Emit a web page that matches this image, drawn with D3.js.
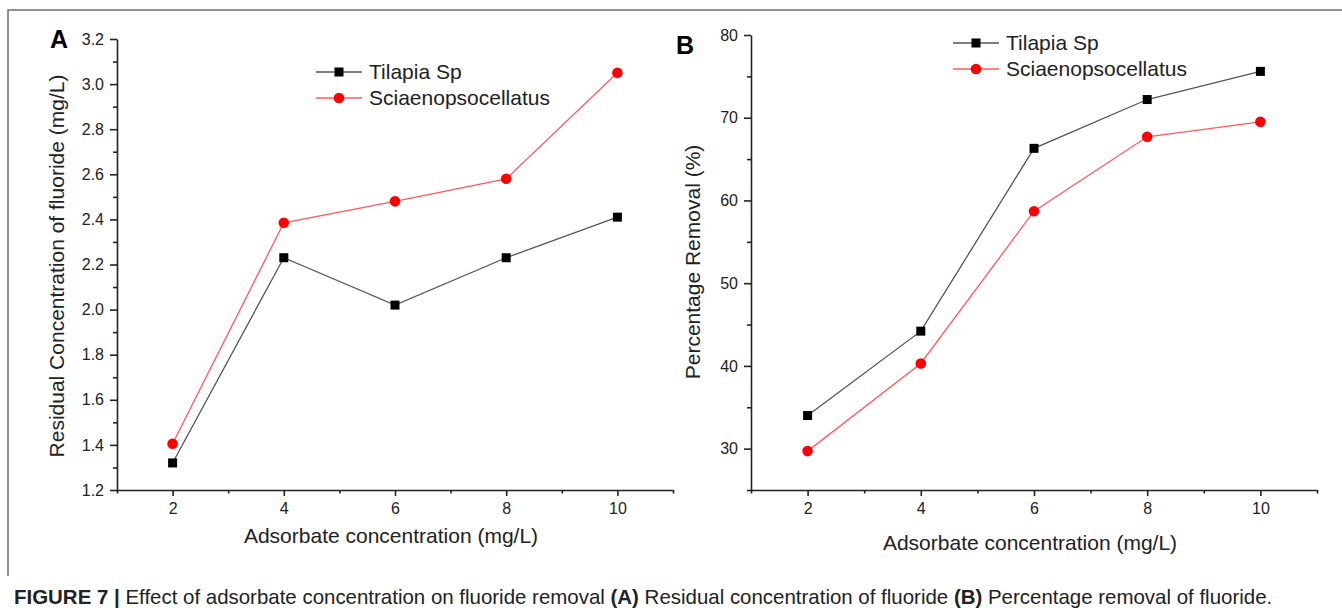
<!DOCTYPE html>
<html>
<head>
<meta charset="utf-8">
<script src="https://cdn.jsdelivr.net/npm/d3@7"></script>
<style>
  html, body { margin: 0; padding: 0; background: #fff; }
  svg { display: block; font-family: "Liberation Sans", Arial, sans-serif; }
</style>
</head>
<body>
<svg id="chart" width="1342" height="616"></svg>
<script>
// ---- data ----
const xValues = [2, 4, 6, 8, 10];
const seriesNames = ["Tilapia Sp", "Sciaenopsocellatus"];
const residualTilapia = [1.32, 2.23, 2.02, 2.23, 2.41];
const residualSciaenops = [1.405, 2.385, 2.48, 2.58, 3.05];
const removalTilapia = [34.0, 44.2, 66.3, 72.2, 75.6];
const removalSciaenops = [29.7, 40.3, 58.7, 67.7, 69.5];
const xMajorTicks = [2, 4, 6, 8, 10];
const xMinorTicks = [1, 3, 5, 7, 9, 11];
const yTicksA = [1.2, 1.4, 1.6, 1.8, 2.0, 2.2, 2.4, 2.6, 2.8, 3.0, 3.2];
const yMinorA = [1.3, 1.5, 1.7, 1.9, 2.1, 2.3, 2.5, 2.7, 2.9, 3.1];
const yTicksB = [30, 40, 50, 60, 70, 80];
const yMinorB = [25, 35, 45, 55, 65, 75];
const xTitle = "Adsorbate concentration (mg/L)";
const yTitleA = "Residual Concentration of fluoride (mg/L)";
const yTitleB = "Percentage Removal (%)";

const svg = d3.select("#chart");
const FONT = '"Liberation Sans", Arial, sans-serif';

// outer frame (top + left)
svg.append("path")
  .attr("d", "M8,576 L8,10 L1342,10")
  .attr("fill", "none").attr("stroke", "#6e6e6e").attr("stroke-width", 1.5);

const colors = { line: ["#555555", "#ff5a5a"], mark: ["#000000", "#ff0000"] };

function drawPanel(o) {
  const g = svg.append("g");
  const x = d3.scaleLinear().domain([1, 11]).range([o.left, o.right]);
  const y = d3.scaleLinear().domain(o.yDomain).range([o.bottom, o.top]);

  // x axis
  const xa = g.append("g").attr("transform", `translate(0,${o.bottom})`)
    .call(d3.axisBottom(x).tickValues(xMajorTicks).tickSize(6).tickSizeOuter(0).tickPadding(7));
  g.append("g").attr("transform", `translate(0,${o.bottom})`)
    .call(d3.axisBottom(x).tickValues(xMinorTicks).tickSize(3.5).tickSizeOuter(0).tickFormat(""))
    .select(".domain").remove();
  // y axis
  const ya = g.append("g").attr("transform", `translate(${o.left},0)`)
    .call(d3.axisLeft(y).tickValues(o.yTicks).tickSize(7).tickSizeOuter(0).tickPadding(6).tickFormat(o.fmt));
  g.append("g").attr("transform", `translate(${o.left},0)`)
    .call(d3.axisLeft(y).tickValues(o.yMinor).tickSize(4).tickSizeOuter(0).tickFormat(""))
    .select(".domain").remove();

  g.selectAll(".domain, .tick line").attr("stroke", "#222").attr("stroke-width", 1.6);
  g.selectAll(".tick text").attr("font-family", FONT).attr("font-size", 16).attr("fill", "#222");

  // axis titles
  g.append("text").attr("x", (o.left + o.right) / 2 - 4).attr("y", o.xTitleY)
    .attr("text-anchor", "middle").attr("font-family", FONT).attr("font-size", 21).attr("fill", "#222")
    .text(xTitle);
  g.append("text").attr("transform", `translate(${o.yTitleX},${o.yTitleCY}) rotate(-90)`)
    .attr("text-anchor", "middle").attr("font-family", FONT).attr("font-size", 21).attr("fill", "#222")
    .text(o.yTitle);

  // panel letter
  g.append("text").attr("x", o.letterX).attr("y", o.letterY)
    .attr("font-family", FONT).attr("font-weight", "bold").attr("font-size", 25).attr("fill", "#000")
    .text(o.letter);

  // lines & markers
  const line = d3.line().x((d, i) => x(xValues[i])).y(d => y(d));
  o.series.forEach((vals, si) => {
    g.append("path").datum(vals).attr("d", line)
      .attr("fill", "none").attr("stroke", colors.line[si]).attr("stroke-width", 1.3);
  });
  // draw markers
  o.series.forEach((vals, si) => {
    if (si === 0) {
      g.selectAll(null).data(vals).enter().append("rect")
        .attr("x", (d, i) => x(xValues[i]) - 4.5).attr("y", d => y(d) - 4.5)
        .attr("width", 9).attr("height", 9).attr("fill", colors.mark[0]);
    } else {
      g.selectAll(null).data(vals).enter().append("circle")
        .attr("cx", (d, i) => x(xValues[i])).attr("cy", d => y(d)).attr("r", 5.3)
        .attr("fill", colors.mark[1]);
    }
  });

  // legend
  seriesNames.forEach((name, si) => {
    const ly = o.legY[si];
    g.append("line").attr("x1", o.legX).attr("x2", o.legX + 46).attr("y1", ly).attr("y2", ly)
      .attr("stroke", colors.line[si]).attr("stroke-width", 1.3);
    if (si === 0) {
      g.append("rect").attr("x", o.legX + 23 - 4.5).attr("y", ly - 4.5).attr("width", 9).attr("height", 9)
        .attr("fill", colors.mark[0]);
    } else {
      g.append("circle").attr("cx", o.legX + 23).attr("cy", ly).attr("r", 5.3).attr("fill", colors.mark[1]);
    }
    g.append("text").attr("x", o.legX + 53).attr("y", ly).attr("dy", "0.35em")
      .attr("font-family", FONT).attr("font-size", 21).attr("fill", "#222").text(name);
  });
}

drawPanel({
  left: 117, right: 673, top: 39, bottom: 490,
  yDomain: [1.2, 3.2], yTicks: yTicksA, yMinor: yMinorA, fmt: d3.format(".1f"),
  xTitleY: 543, yTitleX: 64, yTitleCY: 266, yTitle: yTitleA,
  letter: "A", letterX: 50, letterY: 48,
  series: [residualTilapia, residualSciaenops],
  legX: 316, legY: [72, 98]
});

drawPanel({
  left: 751, right: 1317, top: 35, bottom: 490,
  yDomain: [25, 80], yTicks: yTicksB, yMinor: yMinorB, fmt: d3.format("d"),
  xTitleY: 550, yTitleX: 700, yTitleCY: 262, yTitle: yTitleB,
  letter: "B", letterX: 676, letterY: 54,
  series: [removalTilapia, removalSciaenops],
  legX: 953, legY: [43, 69]
});

// caption
const cap = svg.append("text").attr("x", 14).attr("y", 604)
  .attr("font-family", FONT).attr("font-size", 16).attr("fill", "#222");
const parts = [
  ["FIGURE 7 | ", true],
  ["Effect of adsorbate concentration on fluoride removal ", false],
  ["(A)", true],
  [" Residual concentration of fluoride ", false],
  ["(B)", true],
  [" Percentage removal of fluoride.", false]
];
parts.forEach(([t, b]) => cap.append("tspan").attr("font-weight", b ? "bold" : "normal").text(t));
const capLen = cap.node().getComputedTextLength();
const target = 1259;
cap.attr("font-size", 16 * target / capLen);
</script>
</body>
</html>
